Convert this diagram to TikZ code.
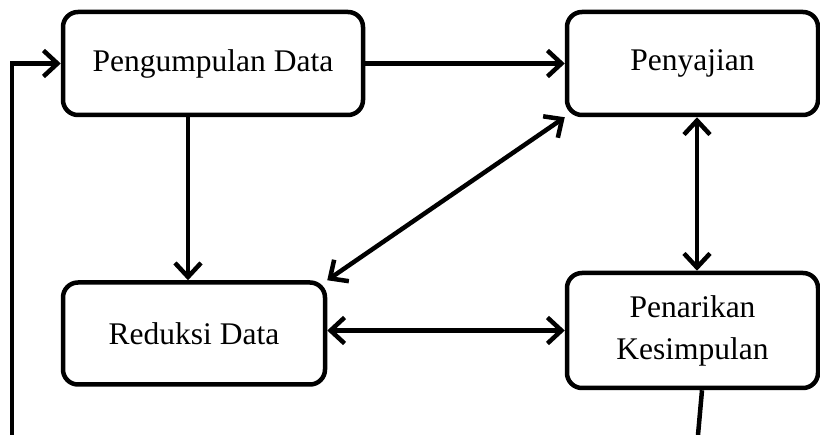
\documentclass[tikz,border=0pt]{standalone}
\usepackage{fontspec}
\setmainfont{Liberation Serif}
\usetikzlibrary{arrows.meta}

\begin{document}
\begin{tikzpicture}[x=1pt, y=-1pt,
  stage/.style={draw, rectangle, rounded corners=15pt, line width=4.5pt,
    align=center, inner sep=0pt,
    font=\fontsize{31.5}{42}\selectfont},
  flow/.style={line width=4.5pt, -{Straight Barb[length=14pt,width=26pt]}},
  both/.style={line width=4.5pt, {Straight Barb[length=14pt,width=26pt]}-{Straight Barb[length=14pt,width=26pt]}},
  plain/.style={line width=4.5pt}]
\useasboundingbox (0,0) rectangle (820,435);

% stages of the analysis
\node[stage, minimum width=300pt, minimum height=103pt] (collect) at (213,63.5) {Pengumpulan Data};
\node[stage, minimum width=251pt, minimum height=103pt] (present) at (692.5,63.5) {Penyajian};
\node[stage, minimum width=262pt, minimum height=102pt] (reduce) at (194,333.5) {Reduksi Data};
\node[stage, minimum width=251pt, minimum height=115pt] (conclude) at (692.5,330.5) {Penarikan\\Kesimpulan};

% loose ends of the feedback loop
\coordinate (loopstart) at (12,435);
\coordinate (conclend) at (698,435);

% connectors
\draw[flow] (loopstart) |- (collect.west);
\draw[flow] (collect.east) -- (present.west);
\draw[flow] ([xshift=-25pt]collect.south) -- ([xshift=-25pt]collect.south |- reduce.north);
\draw[both] (reduce.north east) -- (present.south west);
\draw[both] ([xshift=4.5pt]present.south) -- ([xshift=4.5pt]conclude.north);
\draw[both] (conclude.west -| reduce.east) -- (conclude.west);
\draw[plain] ([xshift=9.5pt]conclude.south) -- (conclend);
\end{tikzpicture}
\end{document}
